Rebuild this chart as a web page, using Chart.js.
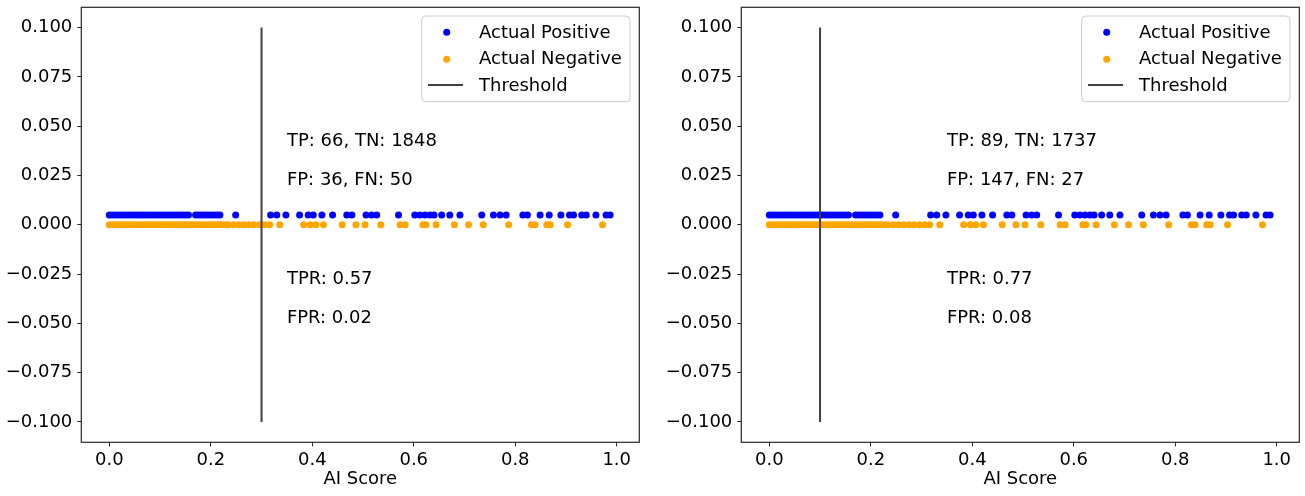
<!DOCTYPE html>
<html><head><meta charset="utf-8">
<script src="https://cdn.jsdelivr.net/npm/chart.js@4.4.1/dist/chart.umd.min.js"></script>
<style>
html,body{margin:0;padding:0;background:#fff;width:1305px;height:496px;overflow:hidden}
canvas{position:absolute;top:0}
#c1{left:0}
#c2{left:652px}
</style></head><body>
<canvas id="c1" width="652" height="496"></canvas>
<canvas id="c2" width="653" height="496"></canvas>
<script>
// ---- data ----
const positiveScores = [0.000,0.006,0.012,0.018,0.024,0.030,0.036,0.042,0.048,0.054,0.060,0.066,0.072,0.078,0.084,0.090,0.096,0.102,0.108,0.114,0.120,0.126,0.132,0.138,0.144,0.150,0.156,0.170,0.176,0.182,0.188,0.194,0.200,0.206,0.212,0.218,
  0.249,0.318,0.330,0.348,0.375,0.392,0.402,0.419,0.440,0.468,0.478,0.506,0.517,0.527,0.570,0.602,0.612,0.622,0.632,0.640,0.655,0.671,0.691,0.734,0.757,0.770,0.782,0.815,0.824,0.849,0.867,0.890,0.907,0.915,0.931,0.940,0.959,0.979,0.987];
const negativeScores = [0.000,0.006,0.012,0.018,0.024,0.030,0.036,0.042,0.048,0.054,0.060,0.066,0.072,0.078,0.084,0.090,0.096,0.102,0.108,0.114,0.120,0.126,0.132,0.138,0.144,0.150,0.156,0.162,0.168,0.174,0.180,0.186,0.192,0.198,0.204,0.210,0.216,0.222,0.228,0.234,
  0.245,0.255,0.265,0.275,0.285,0.296,0.306,0.316,0.336,0.383,0.396,0.407,0.422,0.459,0.486,0.504,0.535,0.573,0.583,0.618,0.624,0.644,0.680,0.708,0.737,0.787,0.832,0.839,0.862,0.869,0.903,0.972];
const positiveLevel = 0.005;
const negativeLevel = 0.0;
const thresholds = [0.3, 0.1];
const thresholdSpan = [-0.1, 0.1];
const statsLeft = ["TP: 66, TN: 1848", "FP: 36, FN: 50", "TPR: 0.57", "FPR: 0.02"];
const statsRight = ["TP: 89, TN: 1737", "FP: 147, FN: 27", "TPR: 0.77", "FPR: 0.08"];
const statsX = 0.35;
const statsY = [0.04, 0.02, -0.03, -0.05];
const xTickValues = [0.0, 0.2, 0.4, 0.6, 0.8, 1.0];
const yTickValues = [-0.1, -0.075, -0.05, -0.025, 0.0, 0.025, 0.05, 0.075, 0.1];
const seriesLabels = ["Actual Positive", "Actual Negative", "Threshold"];
const xTitle = "AI Score";

// ---- styling ----
const FONT = '"DejaVu Sans", "Liberation Sans", sans-serif';
Chart.defaults.font.family = FONT;
Chart.defaults.font.size = 18;
Chart.defaults.color = '#000';
const BLUE = '#0000ff', ORANGE = '#ffa500', LINE = '#404040', AXIS = '#262626';

const decor = {
  id: 'decor',
  afterDatasetsDraw(chart, args, opts) {
    const {ctx, chartArea: a, scales: {x, y}} = chart;
    ctx.save();
    ctx.strokeStyle = AXIS; ctx.lineWidth = 1.2;
    ctx.strokeRect(a.left, a.top, a.right - a.left, a.bottom - a.top);
    ctx.fillStyle = '#000';
    ctx.font = '18px ' + FONT;
    ctx.textAlign = 'left'; ctx.textBaseline = 'alphabetic';
    opts.stats.forEach((s, i) => ctx.fillText(s, x.getPixelForValue(statsX), y.getPixelForValue(statsY[i])));
    const w = 208.3, h = 85.7;
    const L = a.right - 9.3 - w, T = a.top + 8.7, r = 4;
    ctx.beginPath();
    ctx.moveTo(L + r, T); ctx.lineTo(L + w - r, T); ctx.quadraticCurveTo(L + w, T, L + w, T + r);
    ctx.lineTo(L + w, T + h - r); ctx.quadraticCurveTo(L + w, T + h, L + w - r, T + h);
    ctx.lineTo(L + r, T + h); ctx.quadraticCurveTo(L, T + h, L, T + h - r);
    ctx.lineTo(L, T + r); ctx.quadraticCurveTo(L, T, L + r, T);
    ctx.closePath();
    ctx.fillStyle = 'rgba(255,255,255,0.8)'; ctx.fill();
    ctx.strokeStyle = '#cccccc'; ctx.lineWidth = 1; ctx.stroke();
    const markY = [16.3, 43.3, 69];
    const textY = [21.5, 48.2, 74.8];
    const ds = chart.data.datasets;
    [0, 1].forEach(i => {
      ctx.beginPath(); ctx.arc(L + 25, T + markY[i], 3.5, 0, Math.PI * 2);
      ctx.fillStyle = ds[i].backgroundColor; ctx.fill();
    });
    ctx.beginPath(); ctx.moveTo(L + 6.3, T + markY[2]); ctx.lineTo(L + 41.3, T + markY[2]);
    ctx.strokeStyle = LINE; ctx.lineWidth = 2; ctx.stroke();
    ctx.fillStyle = '#000';
    ds.forEach((d, i) => ctx.fillText(d.label, L + 57.3, T + textY[i]));
    ctx.restore();
  }
};

function makeChart(id, thr, stats, yAxisWidth, rightPad) {
  return new Chart(document.getElementById(id), {
    type: 'scatter',
    data: {
      datasets: [
        { label: seriesLabels[0], data: positiveScores.map(v => ({x: v, y: positiveLevel})),
          backgroundColor: BLUE, borderWidth: 0, pointRadius: 3.5, order: 1 },
        { label: seriesLabels[1], data: negativeScores.map(v => ({x: v, y: negativeLevel})),
          backgroundColor: ORANGE, borderWidth: 0, pointRadius: 3.5, order: 2 },
        { label: seriesLabels[2], type: 'line', data: thresholdSpan.map(v => ({x: thr, y: v})),
          borderColor: LINE, backgroundColor: LINE, borderWidth: 2, pointRadius: 0, showLine: true, order: 0 }
      ]
    },
    options: {
      responsive: false, animation: false, devicePixelRatio: 1,
      layout: { padding: { left: 0, right: rightPad, top: 7.3, bottom: 6 } },
      plugins: { legend: { display: false }, tooltip: { enabled: false }, decor: { stats } },
      scales: {
        x: {
          type: 'linear', min: -0.0552, max: 1.0445,
          afterBuildTicks: s => { s.ticks = xTickValues.map(v => ({value: v})); },
          afterFit: s => { s.height = 47.7; s.paddingLeft = 0; s.paddingRight = 0; },
          ticks: { callback: v => v.toFixed(1), padding: 3, maxRotation: 0, font: { size: 18 }, color: '#000' },
          grid: { display: true, drawOnChartArea: false, drawTicks: true, tickLength: 4, color: AXIS, tickWidth: 1 },
          border: { display: false },
          title: { display: true, text: xTitle, font: { size: 18 }, color: '#000', padding: 0 }
        },
        y: {
          type: 'linear', min: -0.1103, max: 0.1103,
          afterBuildTicks: s => { s.ticks = yTickValues.map(v => ({value: v})); },
          afterFit: s => { s.width = yAxisWidth; s.paddingTop = 0; s.paddingBottom = 0; },
          ticks: { callback: v => (v < 0 ? '\u2212' : '') + Math.abs(v).toFixed(3), padding: 5, font: { size: 18 }, color: '#000' },
          grid: { display: true, drawOnChartArea: false, drawTicks: true, tickLength: 4, color: AXIS, tickWidth: 1 },
          border: { display: false }
        }
      }
    },
    plugins: [decor]
  });
}

makeChart('c1', thresholds[0], statsLeft, 81.3, 12.7);
makeChart('c2', thresholds[1], statsRight, 89.3, 5.7);
</script>
</body></html>
